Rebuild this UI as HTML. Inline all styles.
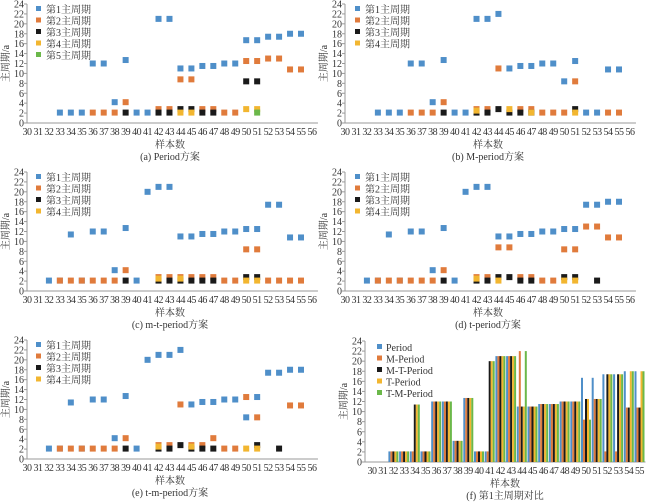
<!DOCTYPE html><html><head><meta charset="utf-8"><style>body{margin:0;background:#fff}svg{display:block}text{font-family:"Liberation Serif","Noto Serif CJK SC",serif;fill:#333}</style></head><body>
<svg id="s" width="650" height="503" xmlns="http://www.w3.org/2000/svg"></svg>
<script>
const S=document.getElementById('s');let h='';
const C=['#4f8fc9','#e07b3c','#1a1a1a','#f2b630','#6bb84a'];
function axes(ox,x30,step,n0,n1,y0,y24,xl,lab){
 h+=`<line x1="${ox}" y1="${y24}" x2="${ox}" y2="${y0}" stroke="#999"/><line x1="${ox}" y1="${y0}" x2="${x30+step*(n1-30)+6}" y2="${y0}" stroke="#999"/>`;
 for(let v=0;v<=24;v+=2){let y=y0-(y0-y24)*v/24;h+=`<text x="${ox-3}" y="${y+3.5}" font-size="10" text-anchor="end">${v}</text><line x1="${ox-3}" x2="${ox}" y1="${y}" y2="${y}" stroke="#999"/>`;}
 for(let n=n0;n<=n1;n++){h+=`<text x="${x30+step*(n-30)}" y="${y0+12}" font-size="10" text-anchor="middle" letter-spacing="-0.5">${n}</text>`;}
 h+=`<text x="${ox-18}" y="${(y0+y24)/2}" font-size="10" text-anchor="middle" transform="rotate(-90 ${ox-18} ${(y0+y24)/2})">主周期/a</text>`;
 h+=`<text x="${xl}" y="${y0+25}" font-size="10" text-anchor="middle">样本数</text><text x="${xl}" y="${y0+37}" font-size="10" text-anchor="middle">${lab}</text>`;
}
function scat(ox,x30,step,y0,y24,data,names,lx,ly){
 data.forEach((s,i)=>{for(const k in s){let x=x30+step*(k-30),y=y0-(y0-y24)*s[k]/24;h+=`<rect x="${x-3}" y="${y-3}" width="6" height="6" fill="${C[i]}"/>`;}});
 names.forEach((t,i)=>{h+=`<rect x="${lx}" y="${ly+i*11.5-3}" width="5" height="5" fill="${C[i]}"/><text x="${lx+10}" y="${ly+i*11.5+4}" font-size="10">${t}</text>`;});
}
const A=[{33:2.1,34:2.1,35:2.1,36:12,37:12,38:4.2,39:12.7,40:2.1,41:2.1,42:21,43:21,44:11,45:11,46:11.5,47:11.5,48:12,49:12,50:16.7,51:16.7,52:17.4,53:17.4,54:18,55:18},
{36:2.1,37:2.1,38:2.1,39:4.2,42:2.8,43:2.8,44:8.8,45:8.8,46:2.8,47:2.8,48:2.1,49:2.1,50:12.5,51:12.5,52:13,53:13,54:10.8,55:10.8},
{39:2.1,42:2.1,43:2.1,44:2.8,45:2.8,46:2.1,47:2.1,50:8.4,51:8.4},{44:2.1,45:2.1,50:2.8,51:2.8},{51:2.1}];
const B=[{33:2.1,34:2.1,35:2.1,36:12,37:12,38:4.2,39:12.7,40:2.1,41:2.1,42:21,43:21,44:22,45:11,46:11.5,47:11.5,48:12,49:12,50:8.4,51:12.5,52:2.1,53:2.1,54:10.8,55:10.8},
{36:2.1,37:2.1,38:2.1,39:4.2,42:2.8,43:2.8,44:11,46:2.8,47:2.8,48:2.1,49:2.1,50:2.1,51:8.4,54:2.1,55:2.1},{39:2.1,42:2.1,43:2.1,44:2.8,45:2.1,46:2.1,47:2.1,51:2.8},{42:2.5,45:2.8,47:2.1,51:2.1}];
const Cc=[{32:2.1,33:2.1,34:11.4,35:2.1,36:12,37:12,38:4.2,39:12.7,40:2.1,41:20,42:21,43:21,44:11,45:11,46:11.5,47:11.5,48:12,49:12,50:12.5,51:12.5,52:17.4,53:17.4,54:10.8,55:10.8},
{33:2.1,34:2.1,35:2.1,36:2.1,37:2.1,38:2.1,39:4.2,42:2.8,43:2.8,44:2.8,45:2.8,46:2.8,47:2.8,48:2.1,49:2.1,50:8.4,51:8.4,52:2.1,53:2.1,54:2.1,55:2.1},{39:2.1,42:2.1,43:2.1,44:2.1,45:2.1,46:2.1,47:2.1,50:2.8,51:2.8},{42:2.5,44:2.5,50:2.1,51:2.1}];
const D=[{32:2.1,33:2.1,34:11.4,35:2.1,36:12,37:12,38:4.2,39:12.7,40:2.1,41:20,42:21,43:21,44:11,45:11,46:11.5,47:11.5,48:12,49:12,50:12.5,51:12.5,52:17.4,53:17.4,54:18,55:18},
{33:2.1,34:2.1,35:2.1,36:2.1,37:2.1,38:2.1,39:4.2,42:2.8,43:2.8,44:8.8,45:8.8,46:2.8,47:2.8,48:2.1,49:2.1,50:8.4,51:8.4,52:13,53:13,54:10.8,55:10.8},{39:2.1,42:2.1,43:2.1,44:2.8,45:2.8,46:2.1,47:2.1,50:2.8,51:2.8,53:2.1},{42:2.5,44:2.1,50:2.1,51:2.1}];
const E=[{32:2.1,33:2.1,34:11.4,35:2.1,36:12,37:12,38:4.2,39:12.7,40:2.1,41:20,42:21,43:21,44:22,45:11,46:11.5,47:11.5,48:12,49:12,50:8.4,51:12.5,52:17.4,53:17.4,54:18,55:18},
{33:2.1,34:2.1,35:2.1,36:2.1,37:2.1,38:2.1,39:4.2,42:2.8,43:2.8,44:11,45:2.8,46:2.8,47:4.2,48:2.1,49:2.1,50:12.5,51:8.4,54:10.8,55:10.8},{39:2.1,42:2.1,43:2.1,44:2.8,45:2.1,46:2.1,47:2.1,51:2.8,53:2.1},{42:2.5,45:2.5,50:2.1,51:2.1}];
const n5=['第1主周期','第2主周期','第3主周期','第4主周期','第5主周期'];
axes(27,27,10.96,30,56,123,4,170,'(a) Period方案');scat(27,27,10.96,123,4,A,n5,36,9);
axes(345,345,10.96,30,56,123,4,488,'(b) M-period方案');scat(345,345,10.96,123,4,B,n5.slice(0,4),355,9);
axes(27,27,10.96,30,56,291,172,170,'(c) m-t-period方案');scat(27,27,10.96,291,172,Cc,n5.slice(0,4),36,177);
axes(345,345,10.96,30,56,291,172,488,'(d) t-period方案');scat(345,345,10.96,291,172,D,n5.slice(0,4),355,177);
axes(27,27,10.96,30,56,459,340,170,'(e) t-m-period方案');scat(27,27,10.96,459,340,E,n5.slice(0,4),36,345);
// (f)
axes(365,372,10.7,30,55,462,341,505,'(f) 第1主周期对比');
const F=[A[0],B[0],Cc[0],D[0],E[0]];
for(let n=32;n<=55;n++)F.forEach((s,i)=>{let v=s[n];if(v==null)v=(n>=32?2.1:0);if(!v)return;let x=372+10.7*(n-30)-5+i*2,y=462-121*v/24;h+=`<rect x="${x}" y="${y}" width="2" height="${462-y}" fill="${C[i]}"/>`;});
['Period','M-Period','M-T-Period','T-Period','T-M-Period'].forEach((t,i)=>{h+=`<rect x="377" y="${344+i*11.5}" width="5" height="5" fill="${C[i]}"/><text x="386" y="${351+i*11.5}" font-size="10">${t}</text>`;});
S.innerHTML=h;
</script></body></html>
